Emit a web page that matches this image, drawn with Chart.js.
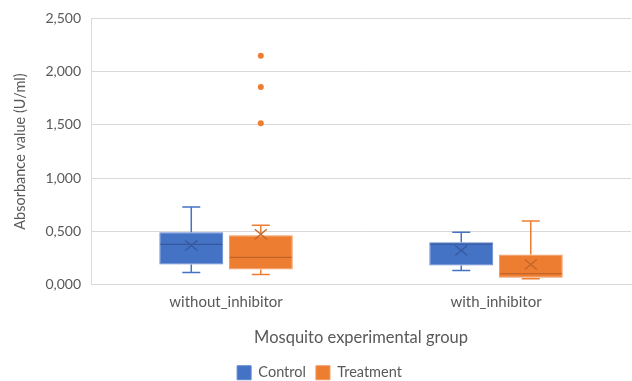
<!DOCTYPE html>
<html>
<head>
<meta charset="utf-8">
<script src="https://cdn.jsdelivr.net/npm/chart.js@4/dist/chart.umd.min.js"></script>
<style>
  html, body { margin: 0; padding: 0; background: #fff; }
  #wrap { width: 632px; height: 381px; }
</style>
</head>
<body>
<div id="wrap"><canvas id="chart"></canvas></div>
<script>
// groups on the x axis
const categories = ['without_inhibitor', 'with_inhibitor'];

// box plot statistics (U/ml)
const controlMin    = [0.114, 0.133];
const controlQ1     = [0.189, 0.180];
const controlMedian = [0.379, 0.380];
const controlQ3     = [0.492, 0.398];
const controlMax    = [0.729, 0.492];
const controlMean   = [0.369, 0.322];
const controlOutliers = [[], []];

const treatmentMin    = [0.095, 0.057];
const treatmentQ1     = [0.142, 0.066];
const treatmentMedian = [0.256, 0.104];
const treatmentQ3     = [0.464, 0.284];
const treatmentMax    = [0.559, 0.597];
const treatmentMean   = [0.473, 0.190];
const treatmentOutliers = [[2.150, 1.856, 1.515], []];

const yTicks = [0, 0.5, 1.0, 1.5, 2.0, 2.5];

const series = [
    { label: 'Control', fill: '#4472C4', border: '#5f86cf', dark: '#36599c',
      min: controlMin, q1: controlQ1, med: controlMedian, q3: controlQ3, max: controlMax, mean: controlMean, out: controlOutliers },
    { label: 'Treatment', fill: '#ED7D31', border: '#f0975c', dark: '#c2642a',
      min: treatmentMin, q1: treatmentQ1, med: treatmentMedian, q3: treatmentQ3, max: treatmentMax, mean: treatmentMean, out: treatmentOutliers }
];

// whiskers, median, mean cross and outliers drawn on top of the floating bars
const boxExtras = {
    id: 'boxExtras',
    afterDatasetsDraw(chart) {
        const ctx = chart.ctx;
        const y = chart.scales.y;
        series.forEach((s, i) => {
            const meta = chart.getDatasetMeta(i);
            meta.data.forEach((bar, j) => {
                const cx = bar.x;
                const half = bar.width / 2;
                ctx.save();
                ctx.lineWidth = 1.5;
                ctx.strokeStyle = s.fill;
                ctx.beginPath();
                // upper whisker
                ctx.moveTo(cx, y.getPixelForValue(s.q3[j]));
                ctx.lineTo(cx, y.getPixelForValue(s.max[j]));
                ctx.moveTo(cx - 9, y.getPixelForValue(s.max[j]));
                ctx.lineTo(cx + 9, y.getPixelForValue(s.max[j]));
                // lower whisker
                ctx.moveTo(cx, y.getPixelForValue(s.q1[j]));
                ctx.lineTo(cx, y.getPixelForValue(s.min[j]));
                ctx.moveTo(cx - 9, y.getPixelForValue(s.min[j]));
                ctx.lineTo(cx + 9, y.getPixelForValue(s.min[j]));
                ctx.stroke();

                // median
                ctx.strokeStyle = s.dark;
                ctx.lineWidth = 1.2;
                ctx.beginPath();
                ctx.moveTo(cx - half + 1, y.getPixelForValue(s.med[j]));
                ctx.lineTo(cx + half - 1, y.getPixelForValue(s.med[j]));
                ctx.stroke();

                // mean cross
                const my = y.getPixelForValue(s.mean[j]);
                ctx.lineWidth = 1.3;
                ctx.beginPath();
                ctx.moveTo(cx - 6, my - 5);
                ctx.lineTo(cx + 6, my + 5);
                ctx.moveTo(cx + 6, my - 5);
                ctx.lineTo(cx - 6, my + 5);
                ctx.stroke();

                // outliers
                ctx.fillStyle = s.fill;
                s.out[j].forEach(v => {
                    ctx.beginPath();
                    ctx.arc(cx, y.getPixelForValue(v), 3, 0, Math.PI * 2);
                    ctx.fill();
                });
                ctx.restore();
            });
        });
    }
};

const fontFamily = 'Lato, "Open Sans", sans-serif';

new Chart(document.getElementById('chart'), {
    type: 'bar',
    data: {
        labels: categories,
        datasets: series.map(s => ({
            label: s.label,
            data: s.q1.map((v, j) => [v, s.q3[j]]),
            backgroundColor: s.fill,
            borderColor: s.border,
            borderWidth: 1,
            borderSkipped: false,
            categoryPercentage: 0.515,
            barPercentage: 0.92
        }))
    },
    options: {
        responsive: true,
        maintainAspectRatio: false,
        animation: false,
        layout: { padding: { top: 13, right: 1, left: 8, bottom: -9 } },
        plugins: {
            legend: {
                position: 'bottom',
                labels: {
                    color: '#595959',
                    font: { family: fontFamily, size: 14.5 },
                    boxWidth: 14,
                    boxHeight: 14,
                    padding: 10
                }
            },
            tooltip: { enabled: false }
        },
        scales: {
            x: {
                grid: { display: false, drawTicks: false },
                border: { color: '#d9d9d9' },
                ticks: { color: '#595959', font: { family: fontFamily, size: 15 }, padding: 8 },
                title: {
                    display: true,
                    text: 'Mosquito experimental group',
                    color: '#595959',
                    font: { family: fontFamily, size: 16.5 },
                    padding: { top: 9, bottom: 8 }
                }
            },
            y: {
                min: 0,
                max: 2.5,
                afterBuildTicks: axis => { axis.ticks = yTicks.map(v => ({ value: v })); },
                grid: { color: '#d9d9d9', drawTicks: false },
                border: { color: '#d9d9d9' },
                ticks: {
                    color: '#595959',
                    font: { family: fontFamily, size: 14 },
                    padding: 10,
                    callback: v => v.toFixed(3).replace('.', ',')
                },
                title: {
                    display: true,
                    text: 'Absorbance value (U/ml)',
                    color: '#595959',
                    font: { family: fontFamily, size: 14.5 },
                    padding: { bottom: 6 }
                }
            }
        }
    },
    plugins: [boxExtras]
});
</script>
</body>
</html>
